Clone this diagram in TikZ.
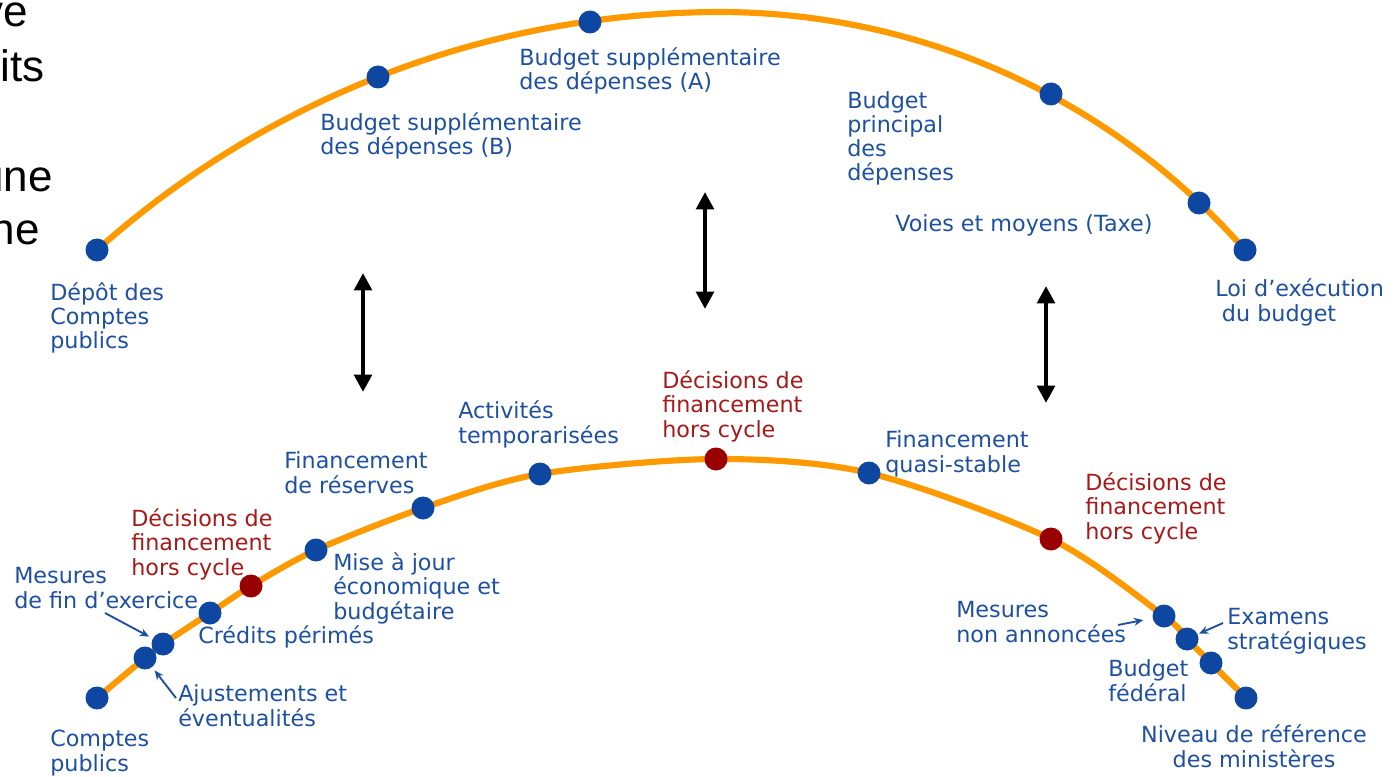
\documentclass[tikz,border=0pt]{standalone}
\usepackage{fontspec}
\setmainfont{DejaVu Sans}
\newfontfamily\slidefont{Liberation Sans}
\usetikzlibrary{arrows.meta,backgrounds}

\definecolor{arcorange}{RGB}{255,153,0}
\definecolor{dotblue}{RGB}{13,71,161}
\definecolor{txtblue}{RGB}{30,80,160}
\definecolor{dotred}{RGB}{153,0,0}
\definecolor{txtred}{RGB}{165,25,25}
\newcommand\labelfont{\fontsize{16.7}{18.2}\selectfont}
\newcommand\bigfont{\slidefont\fontsize{33}{33}\selectfont}

\begin{document}
\begin{tikzpicture}[x=0.75pt,y=-0.75pt,
    dot/.style={circle,fill=dotblue,inner sep=0pt,minimum size=17.25pt},
    hot/.style={dot,fill=dotred},
    lbl/.style={anchor=base west,align=left,inner sep=0pt,text=txtblue,font=\labelfont},
    hotlbl/.style={lbl,text=txtred},
    cut/.style={anchor=base east,inner sep=0pt,font=\bigfont},
    arc/.style={arcorange,line width=4.6pt},
    pointer/.style={txtblue,line width=1.4pt,-{Stealth[length=7pt,width=6pt]}},
    link/.style={line width=3.6pt,{Triangle[length=13pt,width=13pt]}-{Triangle[length=13pt,width=13pt]}}]
  \useasboundingbox (0,0) rectangle (1399,777);
  \clip (0,0) rectangle (1399,777);

  % text cut off at the left edge
  \node[cut] (ve) at (28,27) {ve};
  \node[cut] (its) at (45,82) {its};
  \node[cut] (une) at (53,192) {une};
  \node[cut] (ne) at (40,245) {ne};

  % upper cycle (labels sit on the baseline of their last line)
  \node[dot] (depot) at (97,250) {};
  \node[dot] (suppB) at (378,77) {};
  \node[dot] (suppA) at (590,22) {};
  \node[dot] (principal) at (1051,94) {};
  \node[dot] (voies) at (1199,203) {};
  \node[dot] (loi) at (1245,250) {};

  \node[lbl] at (50,349) {Dépôt des\\Comptes\\publics};
  \node[lbl] at (320,155) {Budget supplémentaire\\des dépenses (B)};
  \node[lbl] at (519,90) {Budget supplémentaire\\des dépenses (A)};
  \node[lbl] at (847,181) {Budget\\principal\\des\\dépenses};
  \node[lbl] at (895,232) {Voies et moyens (Taxe)};
  \node[lbl] at (1215,321) {Loi d’exécution\\\kern5pt du budget};

  % lower cycle
  \node[dot] (comptes) at (97,698) {};
  \node[dot] (ajust) at (145,658) {};
  \node[dot] (finex) at (163,644) {};
  \node[dot] (perimes) at (210,613) {};
  \node[hot] (horsA) at (251,586) {};
  \node[dot] (maj) at (316,550) {};
  \node[dot] (reserves) at (423,508) {};
  \node[dot] (temp) at (540,474) {};
  \node[hot] (horsB) at (716,459) {};
  \node[dot] (quasi) at (869,473) {};
  \node[hot] (horsC) at (1051,539) {};
  \node[dot] (nonann) at (1164,616) {};
  \node[dot] (examens) at (1187,639) {};
  \node[dot] (federal) at (1211,663) {};
  \node[dot] (niveau) at (1246,698) {};

  \node[lbl] at (50,771) {Comptes\\publics};
  \node[lbl] (ajustlbl) at (178,726) {Ajustements et\\éventualités};
  \node[lbl] (finexlbl) at (14,608) {Mesures\\de fin d’exercice};
  \node[lbl] at (198,643) {Crédits périmés};
  \node[hotlbl] at (131,575) {Décisions de\\financement\\hors cycle};
  \node[lbl] at (333,619) {Mise à jour\\économique et\\budgétaire};
  \node[lbl] at (284,493) {Financement\\de réserves};
  \node[lbl] at (458,443) {Activités\\temporarisées};
  \node[hotlbl] at (662,437) {Décisions de\\financement\\hors cycle};
  \node[lbl] at (885,472) {Financement\\quasi-stable};
  \node[hotlbl] at (1085,539) {Décisions de\\financement\\hors cycle};
  \node[lbl] (nonannlbl) at (956,642) {Mesures\\non annoncées};
  \node[lbl] (examenslbl) at (1227,649) {Examens\\stratégiques};
  \node[lbl] at (1108,701) {Budget\\fédéral};
  \node[lbl,anchor=base,align=center] at (1254,767) {Niveau de référence\\des ministères};

  \begin{scope}[on background layer]
    % two circular pieces meeting at the top (720,12)
    \draw[arc] plot[domain=131.82:90,samples=90] ({720+934.4*cos(\x)},{946.4-934.4*sin(\x)})
      -- plot[domain=90:41.22,samples=70] ({720+698*cos(\x)},{710-698*sin(\x)});
    \draw[arc] plot[smooth] coordinates {(comptes.center) (ajust.center) (finex.center)
      (perimes.center) (horsA.center) (maj.center) (reserves.center) (temp.center)
      (horsB.center) (quasi.center) (horsC.center) (nonann.center) (examens.center)
      (federal.center) (niveau.center)};
  \end{scope}

  % small pointers
  \coordinate (p1) at (105,613);
  \coordinate (p2) at (176,698);
  \coordinate (p3) at (1118,625);
  \coordinate (p4) at (1223,623);
  \draw[pointer,shorten >=3pt] (p1) -- (finex);
  \draw[pointer,shorten >=3pt] (p2) -- (ajust);
  \draw[pointer,shorten >=7pt] (p3) -- (nonann);
  \draw[pointer,shorten >=1pt] (p4) -- (examens);

  % links between the two cycles
  \coordinate (l1t) at (363,273);
  \coordinate (l1b) at (363,392);
  \coordinate (l2t) at (705,192);
  \coordinate (l2b) at (705,309);
  \coordinate (l3t) at (1046,286);
  \coordinate (l3b) at (1046,403);
  \draw[link] (l1t) -- (l1b);
  \draw[link] (l2t) -- (l2b);
  \draw[link] (l3t) -- (l3b);
\end{tikzpicture}
\end{document}
